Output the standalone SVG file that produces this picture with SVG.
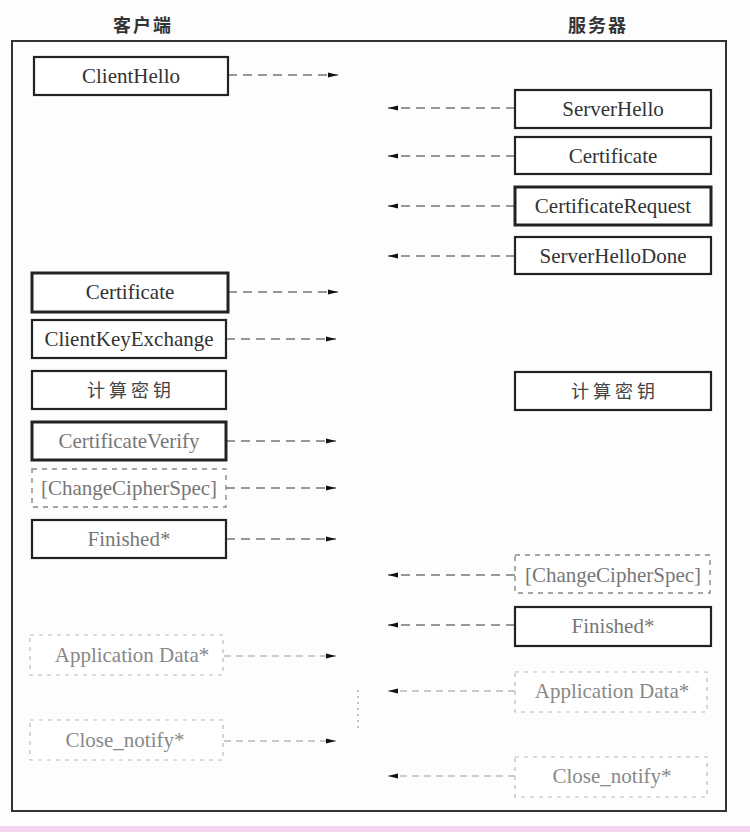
<svg xmlns="http://www.w3.org/2000/svg" width="750" height="832" viewBox="0 0 750 832">
<style>
.bg{fill:#fdfdfd}
.frame{fill:none;stroke:#333;stroke-width:2}
.box{fill:#fff;stroke:#222;stroke-width:2.2}
.thick{stroke-width:3}
.dbox{fill:#fff;stroke:#888;stroke-width:1.4;stroke-dasharray:5 5}
.fbox{fill:#fff;stroke:#bbb;stroke-width:1.2;stroke-dasharray:4 5}
.t{font-family:"Liberation Serif","Times New Roman",serif;font-size:21px;fill:#333;text-anchor:middle}
.tg{fill:#777}
.tf{fill:#888}
.cn{font-family:"Noto Sans CJK SC","Noto Sans CJK JP",sans-serif;font-size:18px;fill:#444;text-anchor:middle;letter-spacing:4px}
.title{font-family:"Noto Sans CJK SC",serif;font-size:18px;font-weight:bold;fill:#333;text-anchor:middle;letter-spacing:2px}
.c{stroke:#777;stroke-width:1.4;stroke-dasharray:9 6;fill:none}
.cf{stroke:#999;stroke-width:1.2;stroke-dasharray:7 5;fill:none}
</style>
<defs>
<marker id="ah" viewBox="0 0 10 6" refX="10" refY="3" markerWidth="10" markerHeight="6" markerUnits="userSpaceOnUse" orient="auto">
<path d="M0,0.5 L10,3 L0,5.5 Z" fill="#111"/>
</marker>
</defs>
<rect class="bg" x="0" y="0" width="750" height="832"/>
<rect x="0" y="826" width="750" height="6" fill="#f4d6f2"/>
<text class="title" x="143" y="32">客户端</text>
<text class="title" x="598" y="32">服务器</text>
<rect class="frame" x="12" y="41" width="714" height="770"/>

<g id="connectors">
<line class="c" x1="228" y1="75" x2="338" y2="75" marker-end="url(#ah)"/>
<line class="c" x1="515" y1="108" x2="388" y2="108" marker-end="url(#ah)"/>
<line class="c" x1="515" y1="156" x2="388" y2="156" marker-end="url(#ah)"/>
<line class="c" x1="515" y1="206" x2="388" y2="206" marker-end="url(#ah)"/>
<line class="c" x1="515" y1="256" x2="388" y2="256" marker-end="url(#ah)"/>
<line class="c" x1="228" y1="292" x2="338" y2="292" marker-end="url(#ah)"/>
<line class="c" x1="226" y1="339" x2="336" y2="339" marker-end="url(#ah)"/>
<line class="c" x1="226" y1="441" x2="336" y2="441" marker-end="url(#ah)"/>
<line class="c" x1="226" y1="488" x2="336" y2="488" marker-end="url(#ah)"/>
<line class="c" x1="226" y1="539" x2="336" y2="539" marker-end="url(#ah)"/>
<line class="c" x1="515" y1="575" x2="388" y2="575" marker-end="url(#ah)"/>
<line class="c" x1="515" y1="625" x2="388" y2="625" marker-end="url(#ah)"/>
<line class="cf" x1="224" y1="656" x2="336" y2="656" marker-end="url(#ah)"/>
<line class="cf" x1="515" y1="691" x2="388" y2="691" marker-end="url(#ah)"/>
<line class="cf" x1="224" y1="741" x2="336" y2="741" marker-end="url(#ah)"/>
<line class="cf" x1="515" y1="776" x2="388" y2="776" marker-end="url(#ah)"/>
<line x1="358" y1="690" x2="358" y2="730" stroke="#999" stroke-width="1.2" stroke-dasharray="2 4"/>
</g>

<g id="c-clienthello"><rect class="box" x="34" y="57" width="194" height="38"/><text class="t" x="131" y="83">ClientHello</text></g>
<g id="s-serverhello"><rect class="box" x="515" y="90" width="196" height="38"/><text class="t" x="613" y="116">ServerHello</text></g>
<g id="s-certificate"><rect class="box" x="515" y="137" width="196" height="37"/><text class="t" x="613" y="163">Certificate</text></g>
<g id="s-certrequest"><rect class="box thick" x="515" y="187" width="196" height="38"/><text class="t" x="613" y="213">CertificateRequest</text></g>
<g id="s-serverhellodone"><rect class="box" x="515" y="237" width="196" height="37"/><text class="t" x="613" y="263">ServerHelloDone</text></g>
<g id="c-certificate"><rect class="box thick" x="32" y="273" width="196" height="39"/><text class="t" x="130" y="299">Certificate</text></g>
<g id="c-clientkeyexchange"><rect class="box" x="32" y="320" width="194" height="38"/><text class="t" x="129" y="346">ClientKeyExchange</text></g>
<g id="c-computekey"><rect class="box" x="32" y="371" width="194" height="38"/><text class="cn" x="131" y="397">计算密钥</text></g>
<g id="s-computekey"><rect class="box" x="515" y="372" width="196" height="38"/><text class="cn" x="615" y="398">计算密钥</text></g>
<g id="c-certverify"><rect class="box thick" x="32" y="422" width="194" height="38"/><text class="t tg" x="129" y="448">CertificateVerify</text></g>
<g id="c-ccs"><rect class="dbox" x="32" y="469" width="194" height="38"/><text class="t tg" x="129" y="495">[ChangeCipherSpec]</text></g>
<g id="c-finished"><rect class="box" x="32" y="520" width="194" height="38"/><text class="t tg" x="129" y="546">Finished*</text></g>
<g id="s-ccs"><rect class="dbox" x="515" y="555" width="195" height="38"/><text class="t tg" x="613" y="582">[ChangeCipherSpec]</text></g>
<g id="s-finished"><rect class="box" x="515" y="607" width="196" height="39"/><text class="t tg" x="613" y="633">Finished*</text></g>
<g id="c-appdata"><rect class="fbox" x="30" y="635" width="193" height="40"/><text class="t tf" x="132" y="662">Application Data*</text></g>
<g id="s-appdata"><rect class="fbox" x="515" y="672" width="192" height="40"/><text class="t tf" x="612" y="698">Application Data*</text></g>
<g id="c-closenotify"><rect class="fbox" x="30" y="720" width="193" height="40"/><text class="t tf" x="125" y="747">Close_notify*</text></g>
<g id="s-closenotify"><rect class="fbox" x="515" y="757" width="192" height="40"/><text class="t tf" x="612" y="783">Close_notify*</text></g>
</svg>
